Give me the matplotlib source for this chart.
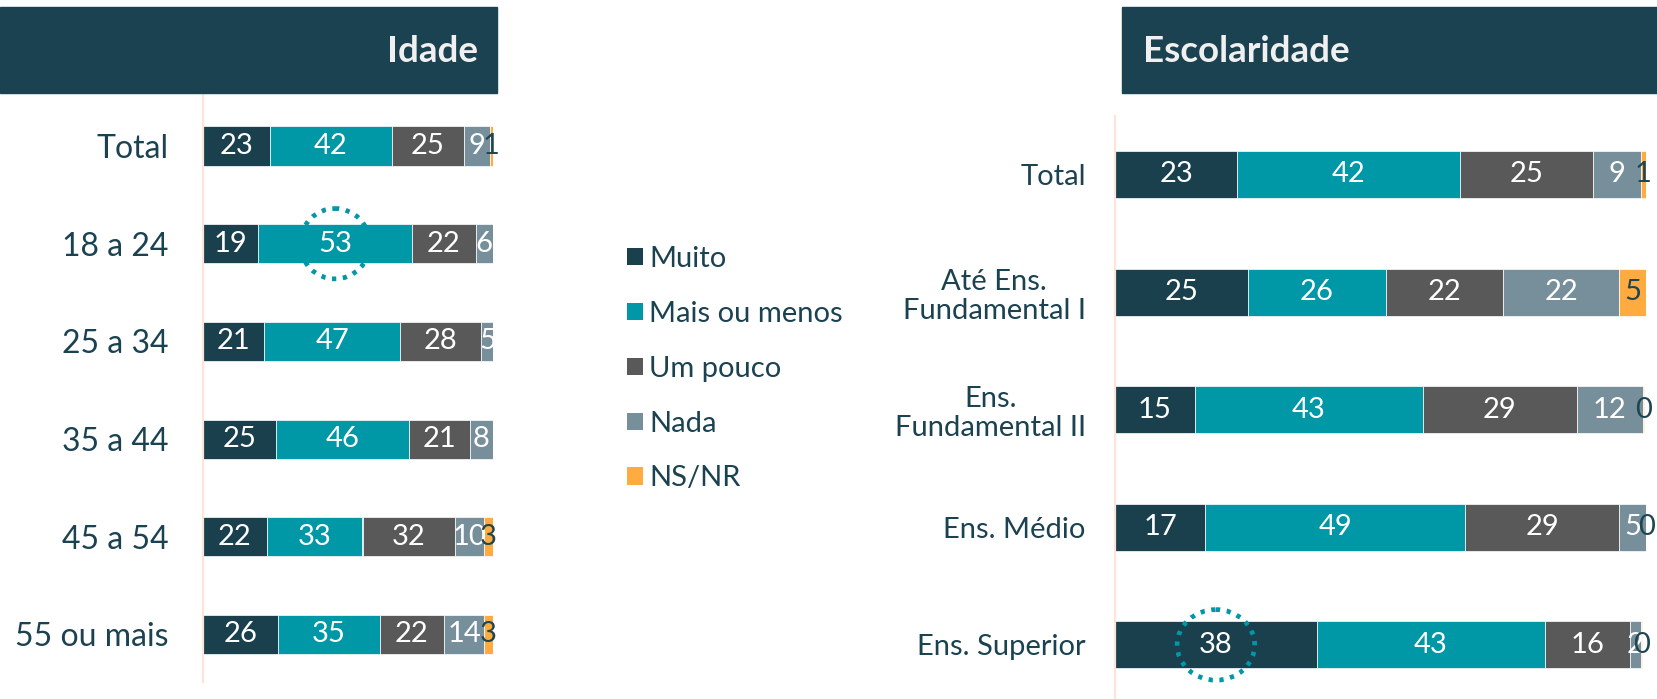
import numpy as np
import matplotlib
matplotlib.use("Agg")
import matplotlib.pyplot as plt
from matplotlib.patches import Patch, Rectangle, Ellipse

plt.rcParams["font.family"] = ["Lato", "DejaVu Sans"]

# ---------------------------------------------------------------
# data (percent)
# ---------------------------------------------------------------
series = ["Muito", "Mais ou menos", "Um pouco", "Nada", "NS/NR"]

idade_cats = ["Total", "18 a 24", "25 a 34", "35 a 44", "45 a 54", "55 ou mais"]
idade_muito = [23, 19, 21, 25, 22, 26]
idade_mais = [42, 53, 47, 46, 33, 35]
idade_pouco = [25, 22, 28, 21, 32, 22]
idade_nada = [9, 6, 4.6, 8, 10, 14]
idade_nsnr = [1, np.nan, np.nan, np.nan, 3, 3]

esc_cats = ["Total", "Até Ens.\nFundamental I", "Ens.\nFundamental II",
            "Ens. Médio", "Ens. Superior"]
esc_muito = [23, 25, 15, 17, 38]
esc_mais = [42, 26, 43, 49, 43]
esc_pouco = [25, 22, 29, 29, 16]
esc_nada = [9, 22, 12.4, 5, 2]
esc_nsnr = [1, 5, 0.3, 0.3, 0.3]

COLORS = ["#1a3f4d", "#0097a7", "#595959", "#778f9b", "#ffab40"]
LABEL_C = ["white", "white", "white", "white", "#1d4552"]
TXT = "#1b4250"
HEAD = "#1b4250"
AXLINE = "#fbe5d6"

W, H = 1658, 699
fig = plt.figure(figsize=(W / 100, H / 100), dpi=100)


def px_axes(x0, y0, x1, y1):
    # pixel box (top-left origin) -> figure axes
    return fig.add_axes([x0 / W, 1 - y1 / H, (x1 - x0) / W, (y1 - y0) / H])


def stacked(ax, cats, cols, ytop, ybot, catsize, pad):
    n = len(cats)
    y = np.arange(n)
    left = np.zeros(n)
    for vals, c, lc in zip(cols, COLORS, LABEL_C):
        v = np.array(vals, dtype=float)
        ok = ~np.isnan(v)
        ax.barh(y[ok], v[ok], left=left[ok], height=0.4, color=c,
                edgecolor="white", linewidth=0.5)
        for yi, vi, li in zip(y[ok], v[ok], left[ok]):
            ax.text(li + vi / 2, yi, f"{vi:.0f}", ha="center", va="center",
                    color=lc, fontsize=21, clip_on=False, zorder=5)
        left[ok] += v[ok]
    ax.set_xlim(0, 100)
    ax.set_ylim(ybot, ytop)
    ax.set_yticks(y)
    ax.set_yticklabels(cats, fontsize=catsize, color=TXT)
    for lbl in ax.get_yticklabels():
        lbl.set_multialignment("center")
        lbl.set_linespacing(1.15)
    ax.tick_params(axis="y", length=0, pad=pad)
    ax.set_xticks([])
    for s in ["top", "right", "bottom"]:
        ax.spines[s].set_visible(False)
    ax.spines["left"].set_color(AXLINE)
    ax.spines["left"].set_linewidth(1.6)
    ax.patch.set_alpha(0)


# left panel: rows 97.7 px apart, first centre at y=146
axL = px_axes(203, 93, 493, 682)
stacked(axL, idade_cats,
        [idade_muito, idade_mais, idade_pouco, idade_nada, idade_nsnr],
        -(146 - 93) / 97.7, (682 - 146) / 97.7, 23, 25)

# right panel: rows 117.6 px apart, first centre at y=174.5
axR = px_axes(1115, 116, 1646, 699)
stacked(axR, esc_cats,
        [esc_muito, esc_mais, esc_pouco, esc_nada, esc_nsnr],
        -(174.5 - 116) / 117.6, (699 - 174.5) / 117.6, 21, 21)

# dotted highlight circles
dot = dict(fill=False, edgecolor="#0097a7", linewidth=3.4,
           linestyle=(0, (0.9, 1.4)), clip_on=False, zorder=6)
axL.add_patch(Ellipse((idade_muito[1] + idade_mais[1] / 2, 1), 24, 0.72, **dot))
axR.add_patch(Ellipse((esc_muito[4] / 2, 4), 14.6, 0.6, **dot))

# header bands
fig.patches.append(Rectangle((0, 1 - 93 / H), 497 / W, 86 / H,
                             transform=fig.transFigure, color=HEAD, zorder=0))
fig.patches.append(Rectangle((1122 / W, 1 - 93 / H), (W - 1122) / W, 86 / H,
                             transform=fig.transFigure, color=HEAD, zorder=0))
fig.text(478 / W, 1 - 52 / H, "Idade", ha="right", va="center",
         fontsize=26.5, fontweight="bold", color="#f0f0f0")
fig.text(1143 / W, 1 - 52 / H, "Escolaridade", ha="left", va="center",
         fontsize=26.5, fontweight="bold", color="#f0f0f0")

# legend
handles = [Patch(facecolor=c, edgecolor="none") for c in COLORS]
leg = fig.legend(handles, series, loc="upper left",
                 bbox_to_anchor=(627 / W, 1 - 246 / H), frameon=False,
                 fontsize=21, handlelength=0.55, handleheight=0.55,
                 handletextpad=0.22, labelspacing=0.99,
                 borderpad=0, borderaxespad=0)
for t in leg.get_texts():
    t.set_color(TXT)

fig.savefig("out.png", dpi=100)
